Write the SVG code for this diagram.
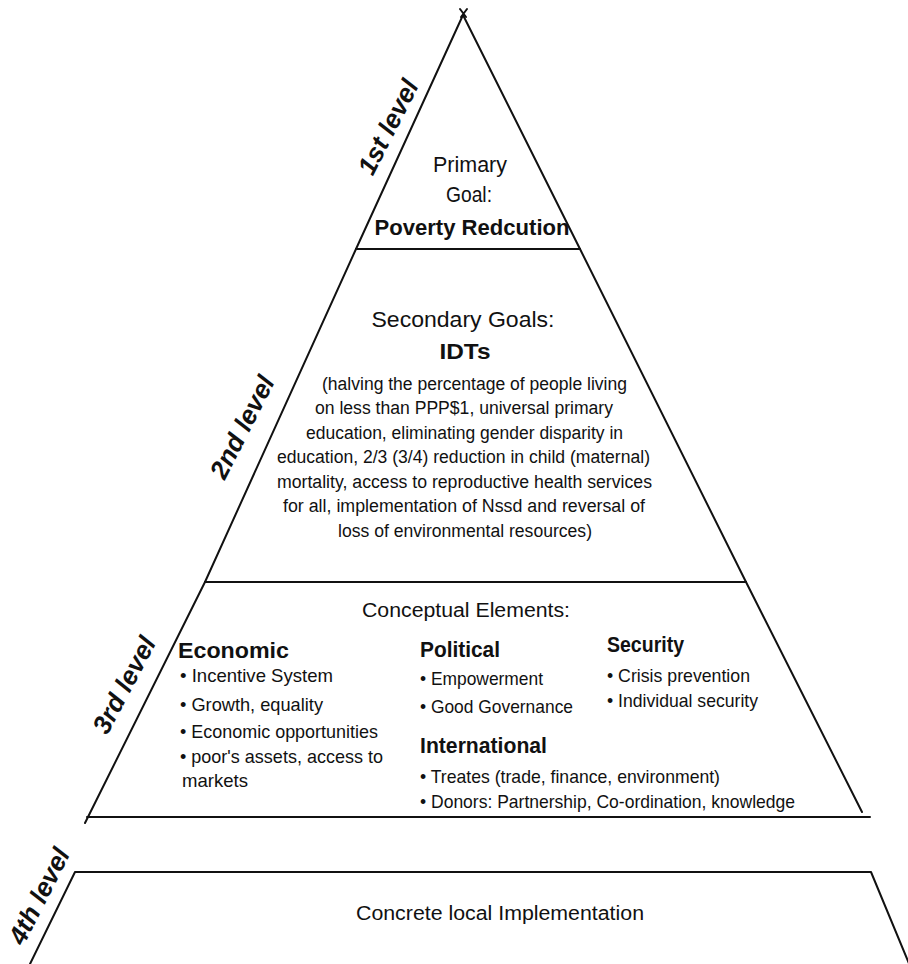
<svg xmlns="http://www.w3.org/2000/svg" width="908" height="964" viewBox="0 0 908 964">
<style>
.ln{stroke:#111;stroke-width:2;fill:none;stroke-linecap:round;stroke-linejoin:round}
text{font-family:"Liberation Sans",Arial,sans-serif;fill:#111}
.h{font-size:22px;text-anchor:middle}
.m{text-anchor:middle}
.b{font-weight:bold}
.s{font-size:18px;text-anchor:middle}
.c{font-size:19px}
.hd{font-size:22px;font-weight:bold}
.lv{font-size:26px;font-weight:bold;font-style:italic;text-anchor:middle}
</style>
<rect width="908" height="964" fill="#fff"/>
<g id="connectors">
  <path class="ln" d="M356,249 L463,15 L580,249"/>
  <path class="ln" d="M460,9 L466,17 M467,9 L461,17"/>
  <path class="ln" d="M356,249 H580"/>
  <path class="ln" d="M356,249 L205,582 M580,249 L746,582"/>
  <path class="ln" d="M205,582 H746"/>
  <path class="ln" d="M205,582 L85,823 M746,582 L862,812"/>
  <path class="ln" d="M87,817 H870"/>
  <path class="ln" d="M75,872 H871 M75,872 L30,964 M871,872 L910,966"/>
</g>
<g id="level1">
  <text class="h" x="470" y="172" textLength="74" lengthAdjust="spacingAndGlyphs">Primary</text>
  <text class="h" x="469" y="202" textLength="46" lengthAdjust="spacingAndGlyphs">Goal:</text>
  <text class="h b" x="472" y="235" textLength="195" lengthAdjust="spacingAndGlyphs">Poverty Redcution</text>
</g>
<g id="level2">
  <text class="h" x="463" y="327" textLength="183" lengthAdjust="spacingAndGlyphs">Secondary Goals:</text>
  <text class="h b" x="465" y="359" font-size="23" textLength="51" lengthAdjust="spacingAndGlyphs">IDTs</text>
  <text class="s" x="474.5" y="390" textLength="305" lengthAdjust="spacingAndGlyphs">(halving the percentage of people living</text>
  <text class="s" x="464" y="414" textLength="298" lengthAdjust="spacingAndGlyphs">on less than PPP$1, universal primary</text>
  <text class="s" x="464.5" y="438.5" textLength="317" lengthAdjust="spacingAndGlyphs">education, eliminating gender disparity in</text>
  <text class="s" x="463.5" y="463" textLength="373" lengthAdjust="spacingAndGlyphs">education, 2/3 (3/4) reduction in child (maternal)</text>
  <text class="s" x="464.5" y="487.5" textLength="375" lengthAdjust="spacingAndGlyphs">mortality, access to reproductive health services</text>
  <text class="s" x="464" y="512" textLength="362" lengthAdjust="spacingAndGlyphs">for all, implementation  of Nssd and reversal of</text>
  <text class="s" x="465" y="537" textLength="254" lengthAdjust="spacingAndGlyphs">loss of environmental resources)</text>
</g>
<g id="level3">
  <text class="m" x="466" y="617" font-size="20" textLength="208" lengthAdjust="spacingAndGlyphs">Conceptual Elements:</text>
  <g id="economic">
    <text class="hd" x="178" y="658" textLength="111" lengthAdjust="spacingAndGlyphs">Economic</text>
    <text class="c" x="180" y="682" textLength="153" lengthAdjust="spacingAndGlyphs">• Incentive System</text>
    <text class="c" x="180" y="711" textLength="143" lengthAdjust="spacingAndGlyphs">• Growth, equality</text>
    <text class="c" x="180" y="738" textLength="198" lengthAdjust="spacingAndGlyphs">• Economic opportunities</text>
    <text class="c" x="180" y="763" textLength="203" lengthAdjust="spacingAndGlyphs">• poor's assets, access to</text>
    <text class="c" x="182" y="787" textLength="66" lengthAdjust="spacingAndGlyphs">markets</text>
  </g>
  <g id="political">
    <text class="hd" x="420" y="657" textLength="80" lengthAdjust="spacingAndGlyphs">Political</text>
    <text class="c" x="420" y="685" textLength="123" lengthAdjust="spacingAndGlyphs">• Empowerment</text>
    <text class="c" x="420" y="713" textLength="153" lengthAdjust="spacingAndGlyphs">• Good Governance</text>
  </g>
  <g id="security">
    <text class="hd" x="607" y="652" font-size="21" textLength="77" lengthAdjust="spacingAndGlyphs">Security</text>
    <text class="c" x="607" y="682" textLength="143" lengthAdjust="spacingAndGlyphs">• Crisis prevention</text>
    <text class="c" x="607" y="707" textLength="151" lengthAdjust="spacingAndGlyphs">• Individual security</text>
  </g>
  <g id="international">
    <text class="hd" x="420" y="753" textLength="127" lengthAdjust="spacingAndGlyphs">International</text>
    <text class="c" x="420" y="783" textLength="300" lengthAdjust="spacingAndGlyphs">• Treates (trade, finance, environment)</text>
    <text class="c" x="420" y="808" textLength="375" lengthAdjust="spacingAndGlyphs">• Donors: Partnership, Co-ordination, knowledge</text>
  </g>
</g>
<g id="level4">
  <text class="m" x="500" y="920" font-size="20" textLength="288" lengthAdjust="spacingAndGlyphs">Concrete local Implementation</text>
</g>
<g id="labels">
  <text class="lv" x="388" y="136" transform="rotate(-63 388 127)">1st level</text>
  <text class="lv" x="242" y="436" transform="rotate(-63 242 427)">2nd level</text>
  <text class="lv" x="124" y="694" transform="rotate(-62 124 685)">3rd level</text>
  <text class="lv" x="39" y="905" font-size="25" transform="rotate(-63 39 896)">4th level</text>
</g>
</svg>
